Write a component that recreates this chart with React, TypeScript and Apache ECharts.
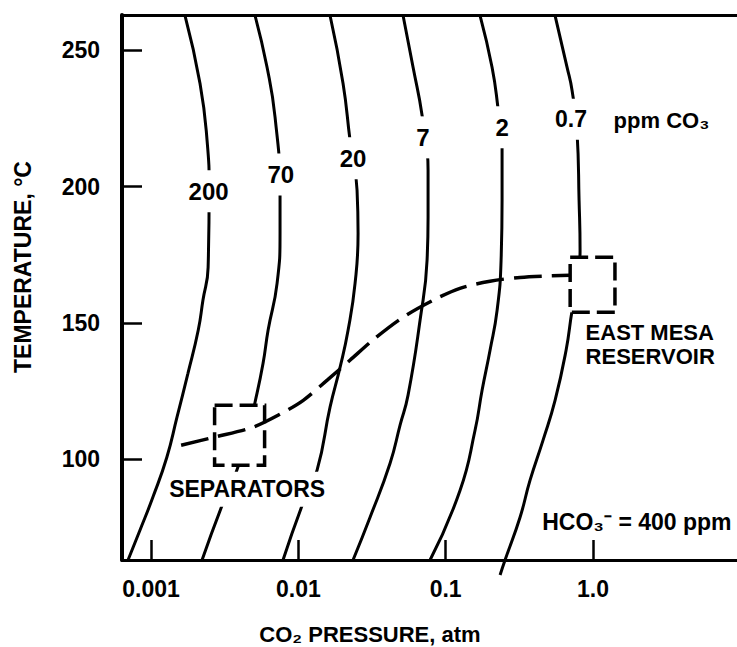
import React, { useEffect, useRef } from 'react';
import * as echarts from 'echarts';

// ---- axis ticks ----
const xTickValues = [0.001, 0.01, 0.1, 1];
const xTickLabels = ['0.001', '0.01', '0.1', '1.0'];
const yTickValues = [100, 150, 200, 250];

// ---- iso-CO3 contours: [CO2 pressure atm, temperature °C] ----
const contourNames = ['200', '70', '20', '7', '2', '0.7'];
const curve200 = [[0.0017, 262.8], [0.00215, 237.9], [0.0024, 217.0], [0.00248, 198.7], [0.00244, 170.4], [0.00225, 158.3], [0.00209, 147.3], [0.00178, 131.5], [0.0015, 115.4], [0.00128, 100.7], [0.00103, 86.1], [0.000842, 74.0], [0.000698, 63.0]];
const curve70 = [[0.00508, 262.8], [0.00613, 243.8], [0.00695, 225.4], [0.00751, 197.9], [0.00751, 182.9], [0.00717, 164.5], [0.00623, 147.3], [0.00576, 135.2], [0.00508, 120.9], [0.00442, 107.0], [0.00372, 94.1], [0.00308, 83.9], [0.00222, 63.0]];
const curve20 = [[0.01641, 262.8], [0.02011, 237.9], [0.02244, 217.0], [0.02503, 198.7], [0.02543, 182.9], [0.02426, 164.5], [0.02175, 147.3], [0.01919, 133.7], [0.01641, 119.1], [0.0134, 96.0], [0.01076, 83.9], [0.00787, 63.0]];
const curve7 = [[0.05138, 262.8], [0.06008, 243.8], [0.06915, 226.2], [0.07595, 206.0], [0.07595, 188.8], [0.07477, 173.0], [0.06702, 151.0], [0.05555, 123.5], [0.04903, 112.5], [0.04194, 98.5], [0.03068, 78.7], [0.02351, 63.0]];
const curve2 = [[0.1712, 262.8], [0.2065, 243.8], [0.2268, 228.7], [0.2415, 215.2], [0.2415, 195.0], [0.2378, 173.0], [0.2234, 154.6], [0.2001, 140.0], [0.1767, 125.3], [0.1583, 110.6], [0.1253, 88.6], [0.07837, 63.0]];
const curve07 = [[0.5529, 262.8], [0.6672, 243.8], [0.7213, 235.3], [0.7801, 219.6], [0.8047, 195.0], [0.8174, 176.7], [0.768, 162.0], [0.7213, 154.6], [0.6569, 140.0], [0.5529, 121.6], [0.4584, 107.0], [0.3741, 92.3], [0.3199, 78.7], [0.2531, 63.0], [0.2341, 57.5]];
const contours = [curve200, curve70, curve20, curve7, curve2, curve07];

// contour label anchors
const curveLabelTexts = ['200', '70', '20', '7', '2', '0.7'];
const curveLabelP = [0.00246, 0.0076, 0.0235, 0.0702, 0.2415, 0.71];
const curveLabelT = [198.3, 204.5, 210.4, 218.1, 221.8, 224.7];

// ---- separator -> reservoir trend (dashed) ----
const trendP = [0.0016, 0.0027, 0.0049, 0.0075, 0.0108, 0.0157, 0.0224, 0.0332, 0.0514, 0.082, 0.125, 0.2, 0.32, 0.699];
const trendT = [105.1, 108.1, 111.7, 116.5, 121.6, 129.0, 136.3, 144.4, 152.1, 158.3, 162.7, 165.3, 166.7, 167.5];

// ---- boxes: [pMin, pMax, tMin, tMax] ----
const separatorsBox = [0.0027, 0.0059, 97.8, 119.8];
const eastMesaBox = [0.7, 1.41, 153.9, 174.1];

// ---- annotations ----
const annotationTexts = ['SEPARATORS', 'EAST MESA', 'RESERVOIR', 'HCO₃⁻ = 400 ppm', 'ppm CO₃'];
const annotationP = [0.00449, 0.884, 0.884, 8.79, 1.37];
const annotationT = [89.0, 146.4, 137.6, 76.9, 224.3];
const annotationPlace = ['inside', 'right', 'right', 'left', 'right'];
const annotationSize = [23, 22, 22, 23, 22];

const FONT = '"Liberation Sans", Arial, Helvetica, sans-serif';

export default function App() {
  const ref = useRef<HTMLDivElement>(null);

  useEffect(() => {
    const el = ref.current;
    if (!el) return;
    const chart = echarts.init(el, null, { renderer: 'svg' });

    const txt = { color: '#000', fontFamily: FONT, fontWeight: 'bold' as const };

    const contourSeries = contours.map((data, i) => ({
      type: 'line',
      name: contourNames[i] + ' ppm CO3',
      data,
      symbol: 'none',
      showSymbol: false,
      smooth: 0.5,
      clip: i !== contours.length - 1,
      silent: true,
      z: 2,
      lineStyle: { color: '#000', width: 3 },
    }));

    const option: any = {
      animation: false,
      backgroundColor: '#fff',
      grid: { left: 122, right: 0, top: 15, bottom: 87, containLabel: false, outerBoundsMode: 'none' },
      xAxis: [
        {
          type: 'log',
          min: 0.000635,
          max: 9.5,
          position: 'bottom',
          axisLine: { show: true, onZero: false, lineStyle: { color: '#000', width: 3 } },
          axisTick: { show: true, inside: true, length: 20, customValues: xTickValues, lineStyle: { color: '#000', width: 2.5 } },
          minorTick: { show: false },
          axisLabel: {
            show: true,
            customValues: xTickValues,
            margin: 17,
            fontSize: 23,
            ...txt,
            formatter: (v: number) => {
              const k = xTickValues.findIndex((t) => Math.abs(Math.log10(t) - Math.log10(v)) < 1e-6);
              return k >= 0 ? xTickLabels[k] : '';
            },
          },
          splitLine: { show: false },
        },
        {
          type: 'log',
          min: 0.000635,
          max: 9.5,
          position: 'top',
          axisLine: { show: true, onZero: false, lineStyle: { color: '#000', width: 3 } },
          axisTick: { show: false },
          axisLabel: { show: false },
          splitLine: { show: false },
        },
      ],
      yAxis: {
        type: 'value',
        min: 63,
        max: 263,
        axisLine: { show: true, onZero: false, lineStyle: { color: '#000', width: 4 } },
        axisTick: { show: true, inside: true, length: 20, customValues: yTickValues, lineStyle: { color: '#000', width: 2.5 } },
        axisLabel: { show: true, customValues: yTickValues, margin: 22, fontSize: 23, ...txt },
        splitLine: { show: false },
      },
      graphic: [
        {
          type: 'text',
          x: 23,
          y: 267,
          rotation: Math.PI / 2,
          style: { text: 'TEMPERATURE, °C', fill: '#000', fontFamily: FONT, fontWeight: 'bold', fontSize: 23, align: 'center', verticalAlign: 'middle' },
        },
        {
          type: 'text',
          x: 370,
          y: 634,
          style: { text: 'CO₂ PRESSURE, atm', fill: '#000', fontFamily: FONT, fontWeight: 'bold', fontSize: 22, align: 'center', verticalAlign: 'middle' },
        },
      ],
      series: [
        ...contourSeries,
        {
          type: 'custom',
          name: 'boxes',
          silent: true,
          z: 3,
          data: [separatorsBox, eastMesaBox],
          encode: { x: [0, 1], y: [2, 3] },
          renderItem: (_params: any, api: any) => {
            const a = api.coord([api.value(0), api.value(3)]);
            const b = api.coord([api.value(1), api.value(2)]);
            return {
              type: 'rect',
              shape: { x: a[0], y: a[1], width: b[0] - a[0], height: b[1] - a[1] },
              style: { fill: '#fff', stroke: '#000', lineWidth: 3.5, lineDash: [18, 7] },
            };
          },
        },
        {
          type: 'scatter',
          name: 'contour labels',
          silent: true,
          z: 4,
          symbolSize: 1,
          itemStyle: { color: 'rgba(0,0,0,0)', opacity: 1 },
          data: curveLabelTexts.map((t, i) => ({
            value: [curveLabelP[i], curveLabelT[i]],
            label: { formatter: t, fontSize: i === 5 ? 23 : 24 },
          })),
          label: { show: true, position: 'inside', ...txt, backgroundColor: '#fff', padding: [9, 3] },
        },
        {
          type: 'scatter',
          name: 'annotations',
          silent: true,
          z: 4,
          symbolSize: 1,
          itemStyle: { color: 'rgba(0,0,0,0)', opacity: 1 },
          data: annotationTexts.map((t, i) => ({
            value: [annotationP[i], annotationT[i]],
            label: {
              formatter: t,
              fontSize: annotationSize[i],
              position: annotationPlace[i],
              distance: 0,
              backgroundColor: i === 0 ? '#fff' : 'transparent',
              padding: i === 0 ? [10, 3, 5, 3] : 0,
            },
          })),
          label: { show: true, ...txt, lineHeight: 20 },
        },
        {
          type: 'line',
          name: 'trend',
          silent: true,
          z: 5,
          data: trendP.map((p, i) => [p, trendT[i]]),
          symbol: 'none',
          showSymbol: false,
          smooth: 0.3,
          lineStyle: { color: '#000', width: 3.5, type: [28, 10] },
        },
      ],
    };

    chart.setOption(option);
    return () => chart.dispose();
  }, []);

  return <div ref={ref} style={{ position: 'fixed', left: 0, top: 0, width: 737, height: 647, background: '#fff' }} />;
}
